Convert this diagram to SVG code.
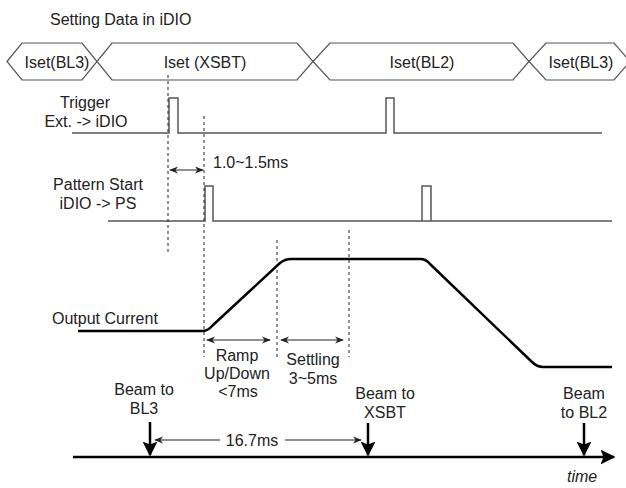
<svg xmlns="http://www.w3.org/2000/svg" width="626" height="488" viewBox="0 0 626 488">
<style>
text{font-family:"Liberation Sans",Arial,sans-serif;font-size:16px;fill:#222}
.c{text-anchor:middle}
.bus{fill:#fff;stroke:#555;stroke-width:1.2}
.sig{fill:none;stroke:#555;stroke-width:1.5}
.dash{fill:none;stroke:#222;stroke-width:1;stroke-dasharray:3,3}
.cur{fill:none;stroke:#000;stroke-width:2.5;stroke-linejoin:round}
.dim{fill:none;stroke:#222;stroke-width:1}
.beam{fill:none;stroke:#000;stroke-width:2.5}
</style>
<defs>
<marker id="ah" viewBox="0 0 10 10" refX="9" refY="5" markerWidth="9" markerHeight="9" markerUnits="userSpaceOnUse" orient="auto-start-reverse">
<path d="M0,1 L10,5 L0,9 L3,5 Z" fill="#222"/>
</marker>
<marker id="bh" viewBox="0 0 10 10" refX="9" refY="5" markerWidth="6" markerHeight="6" orient="auto">
<path d="M0,0 L10,5 L0,10 L2,5 Z" fill="#000"/>
</marker>
</defs>
<text x="50" y="25">Setting Data in iDIO</text>
<g id="bus">
<g id="bus-bl3a"><polygon class="bus" points="7,61.5 22,43 82,43 97,61.5 82,80 22,80"/><text class="c" x="57" y="68">Iset(BL3)</text></g>
<g id="bus-xsbt"><polygon class="bus" points="97,61.5 112,43 297,43 313,61.5 297,80 112,80"/><text class="c" x="205" y="68">Iset (XSBT)</text></g>
<g id="bus-bl2"><polygon class="bus" points="313,61.5 330,43 513,43 529,61.5 513,80 330,80"/><text class="c" x="422" y="68">Iset(BL2)</text></g>
<g id="bus-bl3b"><polygon class="bus" points="529,61.5 546,43 614,43 630,61.5 614,80 546,80"/><text class="c" x="581" y="68">Iset(BL3)</text></g>
</g>
<g id="trigger">
<text class="c" x="85" y="108">Trigger</text>
<text class="c" x="86" y="127">Ext. -&gt; iDIO</text>
<path class="sig" d="M72,133 H169 V98 H178 V133 H386 V98 H394 V133 H602"/>
</g>
<g id="pattern">
<text class="c" x="98" y="190">Pattern Start</text>
<text class="c" x="98" y="209">iDIO -&gt; PS</text>
<path class="sig" d="M108,221 H205 V186 H213 V221 H612"/>
<path class="sig" d="M422,221 V186 H431 V221"/>
</g>
<g id="output">
<text x="52" y="324">Output Current</text>
<path class="cur" d="M78,331 H202 Q208,331 212,326 L280,263 Q285,259 291,259 H420 Q426,259 430,264 L532,362 Q537,367 543,367 H612"/>
</g>
<g id="guides">
<line class="dash" x1="168" y1="75" x2="168" y2="252"/>
<line class="dash" x1="204" y1="116" x2="204" y2="357"/>
<line class="dash" x1="277" y1="240" x2="277" y2="357"/>
<line class="dash" x1="349" y1="230" x2="349" y2="357"/>
</g>
<g id="connectors">
<line class="dim" x1="170" y1="170" x2="203" y2="170" marker-start="url(#ah)" marker-end="url(#ah)"/>
<line class="dim" x1="207" y1="340" x2="270" y2="340" marker-start="url(#ah)" marker-end="url(#ah)"/>
<line class="dim" x1="281" y1="340" x2="343" y2="340" marker-start="url(#ah)" marker-end="url(#ah)"/>
<line class="dim" x1="220" y1="440" x2="155" y2="440" marker-end="url(#ah)"/>
<line class="dim" x1="285" y1="440" x2="361" y2="440" marker-end="url(#ah)"/>
<line class="beam" x1="73" y1="457" x2="614" y2="457" stroke-width="2" marker-end="url(#bh)"/>
<line class="beam" x1="150" y1="422" x2="150" y2="455" marker-end="url(#bh)"/>
<line class="beam" x1="368" y1="423" x2="368" y2="455" marker-end="url(#bh)"/>
<line class="beam" x1="584" y1="423" x2="584" y2="455" marker-end="url(#bh)"/>
</g>
<g id="labels">
<text x="213" y="168">1.0~1.5ms</text>
<text class="c" x="237" y="361">Ramp</text>
<text class="c" x="237" y="379">Up/Down</text>
<text class="c" x="238" y="397">&lt;7ms</text>
<text class="c" x="313" y="365">Settling</text>
<text class="c" x="313" y="384">3~5ms</text>
<text class="c" x="252" y="446">16.7ms</text>
<text class="c" x="144" y="395">Beam to</text>
<text class="c" x="144" y="414">BL3</text>
<text class="c" x="385" y="399">Beam to</text>
<text class="c" x="385" y="418">XSBT</text>
<text class="c" x="584" y="399">Beam</text>
<text class="c" x="584" y="418">to BL2</text>
<text x="567" y="482" font-style="italic">time</text>
</g>
</svg>
